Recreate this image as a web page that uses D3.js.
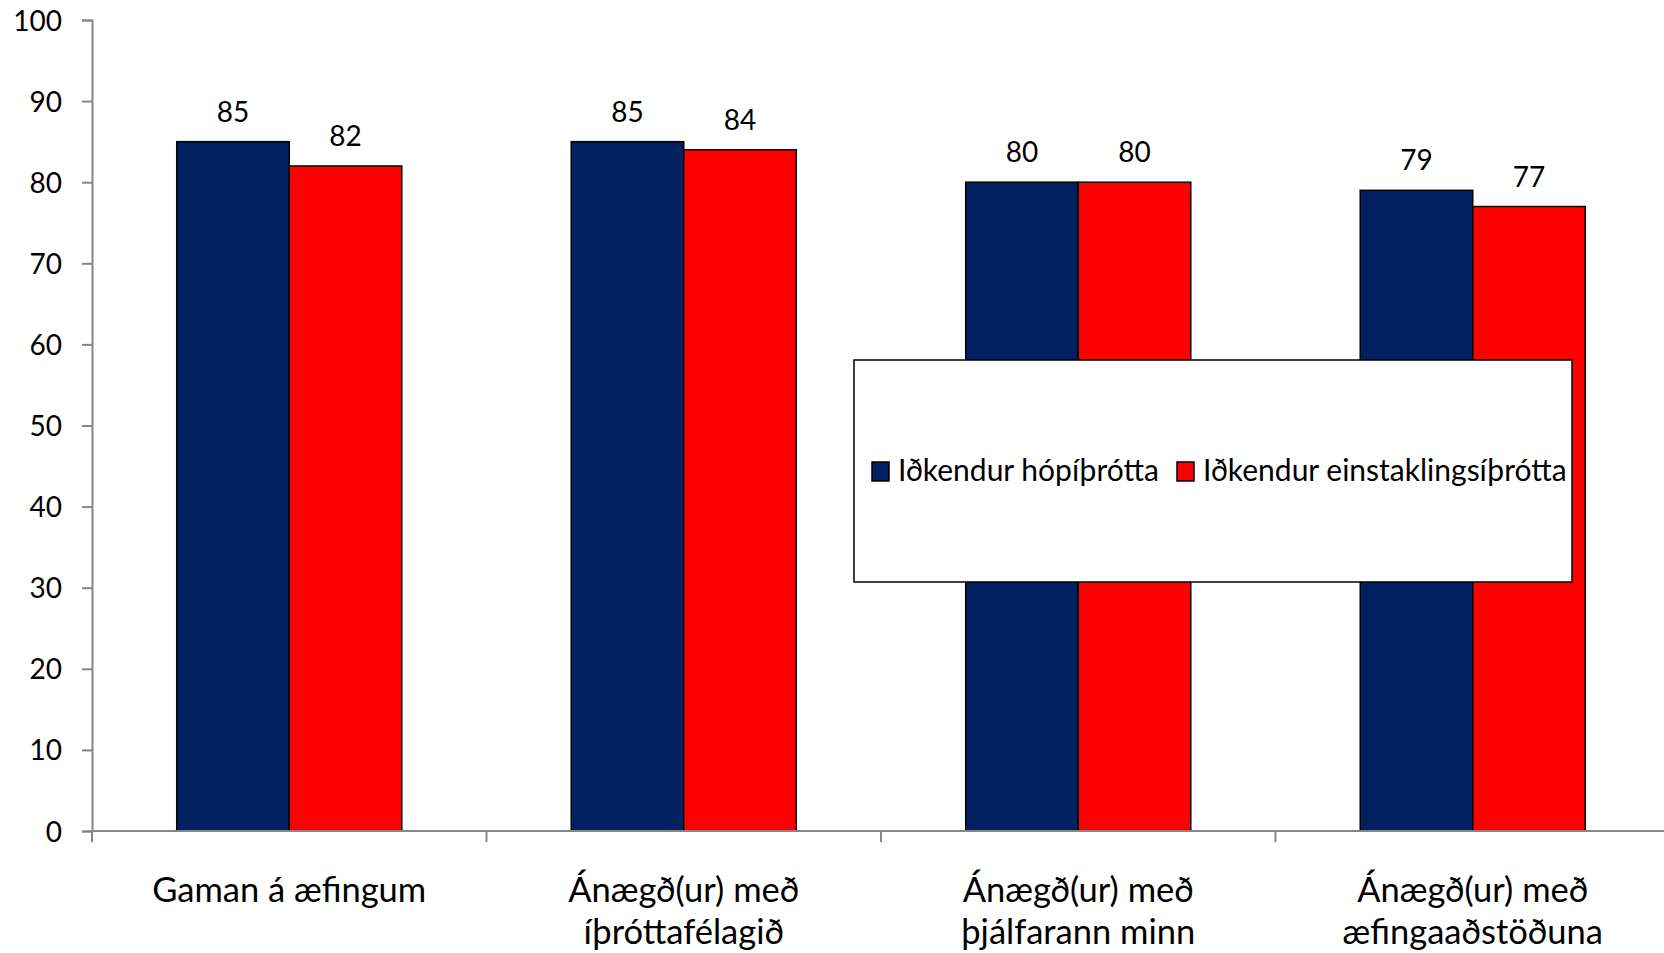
<!DOCTYPE html>
<html>
<head>
<meta charset="utf-8">
<script src="https://cdn.jsdelivr.net/npm/d3@7"></script>
<style>
  html, body { margin:0; padding:0; background:#fff; }
  svg { display:block; font-family: Lato, "Open Sans", sans-serif; }
</style>
</head>
<body>
<script>
var categories = ["Gaman á æfingum", "Ánægð(ur) með\níþróttafélagið", "Ánægð(ur) með\nþjálfarann minn", "Ánægð(ur) með\næfingaaðstöðuna"];
var seriesNames = ["Iðkendur hópíþrótta", "Iðkendur einstaklingsíþrótta"];
var groupValues = [85, 85, 80, 79];
var individualValues = [82, 84, 80, 77];
var yTicks = [0, 10, 20, 30, 40, 50, 60, 70, 80, 90, 100];
var colors = ["#002060", "#ff0000"];

var width = 1664, height = 953;
var margin = {left:92, top:20, bottom:122};
var plotBottom = height - margin.bottom; // ~831

var svg = d3.select("body").append("svg").attr("width", width).attr("height", height);

var y = d3.scaleLinear().domain([0, 100]).range([plotBottom, margin.top]);

var x = d3.scaleBand().domain(categories).range([margin.left, 1670]).paddingInner(0).paddingOuter(0);

var xs = d3.scaleBand().domain(seriesNames).range([0, x.bandwidth()]).paddingInner(0).paddingOuter(0.753);

var series = [groupValues, individualValues];

// bars
series.forEach(function(vals, s) {
  svg.append("g").selectAll("rect")
    .data(vals)
    .enter().append("rect")
    .attr("x", function(d, i){ return x(categories[i]) + xs(seriesNames[s]); })
    .attr("y", function(d){ return y(d); })
    .attr("width", xs.bandwidth())
    .attr("height", function(d){ return y(0) - y(d); })
    .attr("fill", colors[s])
    .attr("stroke", "#000")
    .attr("stroke-width", 1.5);

  svg.append("g").selectAll("text")
    .data(vals)
    .enter().append("text")
    .attr("x", function(d, i){ return x(categories[i]) + xs(seriesNames[s]) + xs.bandwidth()/2; })
    .attr("y", function(d){ return y(d) - 20; })
    .attr("text-anchor", "middle")
    .attr("font-size", 28)
    .attr("fill", "#000")
    .text(function(d){ return d; });
});

// y axis
var yAxis = d3.axisLeft(y).tickValues(yTicks).tickSize(10).tickPadding(20);
var yg = svg.append("g")
  .attr("transform", "translate(" + margin.left + ",0)")
  .call(yAxis);
yg.select(".domain").attr("stroke", "#868686").attr("stroke-width", 2);
yg.selectAll(".tick line").attr("stroke", "#868686").attr("stroke-width", 2);
yg.selectAll(".tick text").attr("font-size", 28).attr("font-family", "Lato").attr("fill", "#000").attr("dy", "0.36em");

// x axis: line plus ticks on category boundaries
var xg = svg.append("g").attr("transform", "translate(0," + plotBottom + ")");
xg.append("line")
  .attr("x1", margin.left).attr("x2", width)
  .attr("stroke", "#868686").attr("stroke-width", 2);
xg.selectAll("line.tk")
  .data(categories)
  .enter().append("line")
  .attr("class", "tk")
  .attr("x1", function(d){ return x(d); })
  .attr("x2", function(d){ return x(d); })
  .attr("y1", 0).attr("y2", 11)
  .attr("stroke", "#868686").attr("stroke-width", 2);

var labels = xg.selectAll("text.cat")
  .data(categories)
  .enter().append("text")
  .attr("class", "cat")
  .attr("text-anchor", "middle")
  .attr("font-size", 34.5)
  .attr("fill", "#000");
labels.each(function(d) {
  var t = d3.select(this);
  d.split("\n").forEach(function(line, i) {
    t.append("tspan")
      .attr("x", x(d) + x.bandwidth()/2)
      .attr("y", 71 + i * 42)
      .text(line);
  });
});

// legend
var legend = svg.append("g").attr("transform", "translate(854,360)");
legend.append("rect")
  .attr("width", 718).attr("height", 222)
  .attr("fill", "#fff").attr("stroke", "#000").attr("stroke-width", 1.5);

var legendX = [18, 323];
seriesNames.forEach(function(name, i) {
  var item = legend.append("g").attr("transform", "translate(" + legendX[i] + ",0)");
  item.append("rect")
    .attr("x", 0).attr("y", 102)
    .attr("width", 17).attr("height", 19)
    .attr("fill", colors[i]).attr("stroke", "#000").attr("stroke-width", 1.5);
  item.append("text")
    .attr("x", 26).attr("y", 121)
    .attr("font-size", 30)
    .attr("fill", "#000")
    .text(name);
});
</script>
</body>
</html>
